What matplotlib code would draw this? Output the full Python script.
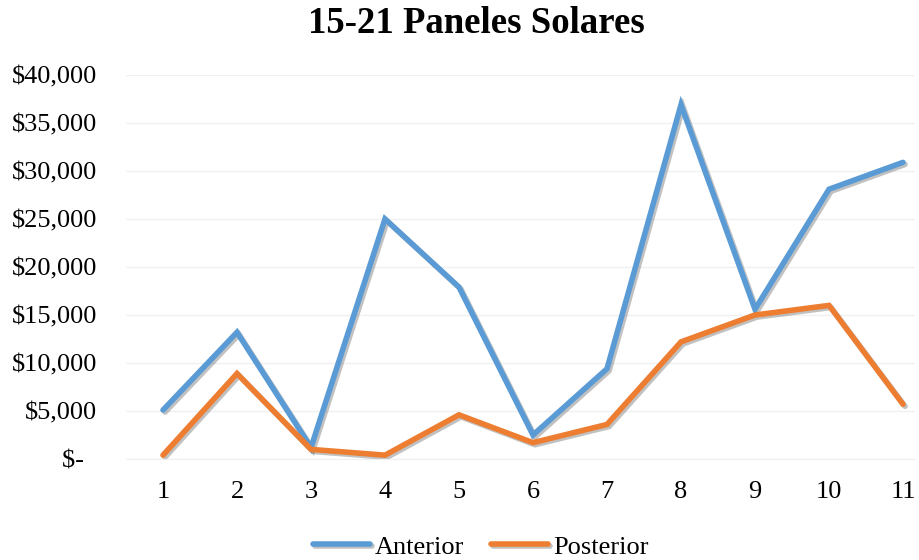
import matplotlib.pyplot as plt
import matplotlib.patheffects as pe
from matplotlib.ticker import FuncFormatter

periods = [1, 2, 3, 4, 5, 6, 7, 8, 9, 10, 11]
anterior = [5100, 13200, 1200, 25000, 17900, 2500, 9400, 36900, 15600, 28100, 30900]
posterior = [400, 8900, 1000, 400, 4600, 1700, 3600, 12200, 15000, 16000, 5700]
series_names = ["Anterior", "Posterior"]
title = "15-21 Paneles Solares"

blue = '#5B9BD5'
orange = '#ED7D31'
plt.rcParams['font.family'] = ['Liberation Serif', 'DejaVu Serif']

def money(v, pos):
    if v == 0:
        return "\\$-  "
    return "\\${:,.0f}".format(v)

fig = plt.figure(figsize=(9.19, 5.6), dpi=100)
ax = fig.add_axes([126 / 919, 1 - 459 / 560, (915 - 126) / 919, (459 - 75) / 560])

shadow = [pe.SimpleLineShadow(offset=(1.5, -1.5), alpha=0.45, shadow_color='#777777'), pe.Normal()]
ax.plot(periods, anterior, color=blue, linewidth=4.0, solid_capstyle='round',
        solid_joinstyle='miter', path_effects=shadow, label=series_names[0])
ax.plot(periods, posterior, color=orange, linewidth=4.0, solid_capstyle='round',
        solid_joinstyle='miter', path_effects=shadow, label=series_names[1])

ax.set_xlim(0.5, 1 + (915 - 163) / 74)
ax.set_ylim(0, 40000)
ax.set_xticks(periods)
ax.set_yticks(range(0, 40001, 5000))
ax.yaxis.set_major_formatter(FuncFormatter(money))
ax.grid(axis='y', color='#F0F0F0', linewidth=1)
ax.set_axisbelow(True)
for s in ['top', 'right', 'left']:
    ax.spines[s].set_visible(False)
ax.spines['bottom'].set_color('#F0F0F0')
ax.tick_params(axis='both', length=0, labelsize=19)
ax.tick_params(axis='y', pad=21)
ax.tick_params(axis='x', pad=16)

fig.suptitle(title, fontsize=26.5, fontweight='bold', x=0.5185, y=0.99)
fig.legend(loc='lower center', bbox_to_anchor=(0.523, -0.04), ncol=2, frameon=False,
           fontsize=19, handlelength=2.15, handletextpad=0.2, columnspacing=1.0)

fig.savefig("out.png", dpi=100)
